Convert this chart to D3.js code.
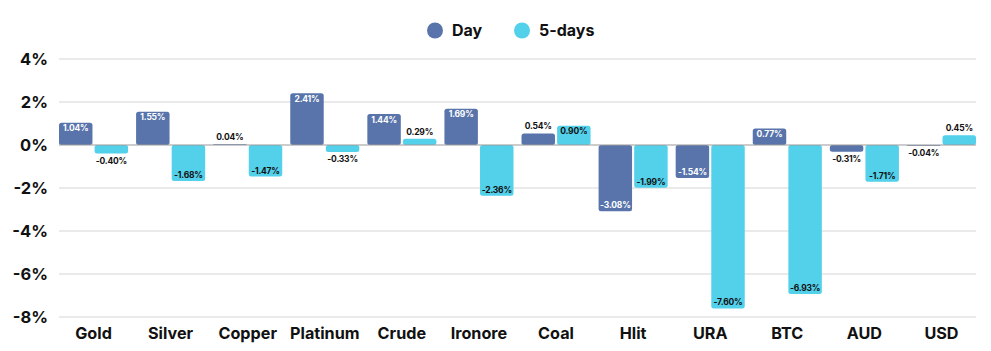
<!DOCTYPE html>
<html>
<head>
<meta charset="utf-8">
<script src="https://cdn.jsdelivr.net/npm/d3@7"></script>
<style>
  body { margin: 0; background: #fff; }
  text { font-family: Inter, "Open Sans", sans-serif; }
</style>
</head>
<body>
<div id="vis-container"></div>
<script>
// chart data
var categories = ["Gold", "Silver", "Copper", "Platinum", "Crude", "Ironore", "Coal", "Hlit", "URA", "BTC", "AUD", "USD"];
var dayValues = [1.04, 1.55, 0.04, 2.41, 1.44, 1.69, 0.54, -3.08, -1.54, 0.77, -0.31, -0.04];
var fiveDayValues = [-0.40, -1.68, -1.47, -0.33, 0.29, -2.36, 0.90, -1.99, -7.60, -6.93, -1.71, 0.45];
var seriesNames = ["Day", "5-days"];
var yTicks = [4, 2, 0, -2, -4, -6, -8];

var colors = { "Day": "#5874ab", "5-days": "#53d0ea" };
var labelColors = { "Day": "#ffffff", "5-days": "#111111" };

var width = 991;
var height = 351;
var margins = { top: 59, right: 15, bottom: 34, left: 59 };
var visWidth = width - margins.left - margins.right;
var visHeight = height - margins.top - margins.bottom;

var svg = d3.select("#vis-container").append("svg")
    .attr("width", width)
    .attr("height", height);

var viewport = svg.append("g")
    .attr("transform", "translate(" + margins.left + "," + margins.top + ")");

// scales
var x = d3.scaleBand()
    .domain(categories)
    .range([0, visWidth])
    .paddingInner(0.104)
    .paddingOuter(0);

var sub = d3.scaleBand()
    .domain(seriesNames)
    .range([0, x.bandwidth()])
    .paddingInner(0.06);

var y = d3.scaleLinear()
    .domain([-8, 4])
    .range([visHeight, 0]);

// gridlines
viewport.append("g").selectAll("line")
    .data(yTicks.filter(d => d !== 0))
    .enter().append("line")
    .attr("x1", 0).attr("x2", visWidth)
    .attr("y1", d => y(d)).attr("y2", d => y(d))
    .attr("stroke", "#d6d6d6")
    .attr("stroke-width", 1.2);

// y tick labels
viewport.append("g").selectAll("text")
    .data(yTicks)
    .enter().append("text")
    .attr("x", -11)
    .attr("y", d => y(d))
    .attr("dy", "0.36em")
    .attr("text-anchor", "end")
    .attr("font-size", 16.5)
    .attr("font-weight", 700)
    .attr("fill", "#111")
    .text(d => d + "%");

// build bar rows from the arrays
var rows = [];
categories.forEach((c, i) => {
    rows.push({ cat: c, series: "Day", value: dayValues[i] });
    rows.push({ cat: c, series: "5-days", value: fiveDayValues[i] });
});

var r = 2.5;
var bars = viewport.append("g");
bars.selectAll("rect")
    .data(rows)
    .enter().append("rect")
    .attr("x", d => x(d.cat) + sub(d.series))
    .attr("width", sub.bandwidth())
    .attr("y", d => Math.min(y(d.value), y(0)))
    .attr("height", d => Math.abs(y(d.value) - y(0)))
    .attr("rx", d => Math.min(r, Math.abs(y(d.value) - y(0)) / 2))
    .attr("fill", d => colors[d.series]);

// zero line
viewport.append("line")
    .attr("x1", 0).attr("x2", visWidth)
    .attr("y1", y(0)).attr("y2", y(0))
    .attr("stroke", "#9a9a9a")
    .attr("stroke-width", 1.2);

// value labels: inside the bar when tall enough, outside otherwise
function fmt(v) { return v.toFixed(2) + "%"; }
viewport.append("g").selectAll("text")
    .data(rows)
    .enter().append("text")
    .attr("x", d => x(d.cat) + sub(d.series) + sub.bandwidth() / 2)
    .attr("y", d => {
        var h = Math.abs(y(d.value) - y(0));
        var inside = h >= 14;
        if (d.value >= 0) return inside ? y(d.value) + 8.5 : y(d.value) - 4;
        return inside ? y(d.value) - 3 : y(d.value) + 10;
    })
    .attr("text-anchor", "middle")
    .attr("font-size", 8.5)
    .attr("font-weight", 700)
    .attr("letter-spacing", "-0.2")
    .attr("fill", d => Math.abs(y(d.value) - y(0)) >= 14 ? labelColors[d.series] : "#111")
    .text(d => fmt(d.value));

// category labels
viewport.append("g").selectAll("text")
    .data(categories)
    .enter().append("text")
    .attr("x", d => x(d) + x.bandwidth() / 2)
    .attr("y", visHeight + 22)
    .attr("text-anchor", "middle")
    .attr("font-size", 16.2)
    .attr("font-weight", 700)
    .attr("fill", "#111")
    .text(d => d);

// legend
var legend = svg.append("g");
var legendX = [435, 522];
seriesNames.forEach((s, i) => {
    legend.append("circle")
        .attr("cx", legendX[i]).attr("cy", 30.5).attr("r", 8)
        .attr("fill", colors[s]);
    legend.append("text")
        .attr("x", legendX[i] + 17).attr("y", 30.5)
        .attr("dy", "0.36em")
        .attr("font-size", 16)
        .attr("font-weight", 700)
        .attr("fill", "#111")
        .text(s);
});
</script>
</body>
</html>
